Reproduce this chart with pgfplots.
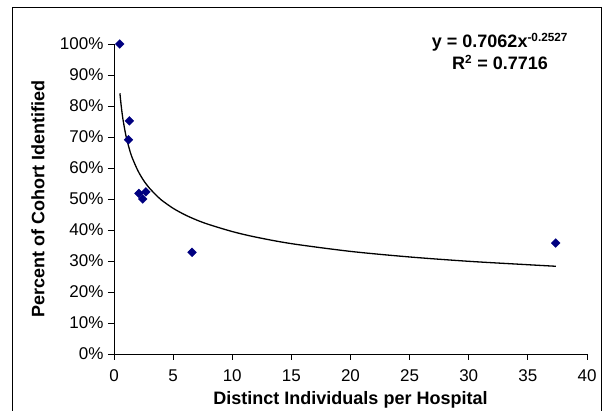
\documentclass[border=0pt]{standalone}
\usepackage{fontspec}
\setmainfont{Liberation Sans}
\usepackage{pgfplots}
\pgfplotsset{compat=1.18}
\definecolor{navy}{RGB}{0,0,128}

\begin{document}
\begin{tikzpicture}
\begin{axis}[
    at={(0pt,0pt)}, anchor=origin,
    scale only axis,
    width=473pt, height=310pt,
    xmin=0, xmax=40, ymin=0, ymax=100,
    axis lines*=left,
    axis line style={black, line width=0.8pt},
    tick align=outside,
    major tick length=6pt,
    tick style={black, line width=0.8pt},
    xtick={0,5,...,40},
    ytick={0,10,...,100},
    yticklabel={\pgfmathprintnumber{\tick}\%},
    /pgf/number format/assume math mode=true,
    tick label style={font=\fontsize{17}{20}\selectfont},
    xticklabel style={yshift=-6pt},
    yticklabel style={xshift=-1pt},
    xlabel={Distinct Individuals per Hospital},
    ylabel={Percent of Cohort Identified},
    label style={font=\bfseries\fontsize{18}{22}\selectfont},
    xlabel style={at={(axis description cs:0.5,0)}, anchor=base, yshift=-51pt},
    ylabel style={at={(axis description cs:0,0.5)}, anchor=center, yshift=76pt},
    clip=false,
]
% observed points
\addplot[only marks, mark=square*, mark size=3.1pt,
    mark options={rotate=45, fill=navy, draw=navy}] coordinates {
    (0.49,100) (1.30,75.2) (1.23,69.1) (2.11,51.8) (2.43,50.0)
    (2.70,52.3) (6.60,32.8) (37.35,35.8)
};
% power trendline
\addplot[black, line width=1.3pt, smooth, no marks] coordinates {
    (0.5,84.1) (0.6,80.4) (0.75,75.9) (1,70.6) (1.25,66.8) (1.5,63.7)
    (2,59.3) (2.5,56.0) (3,53.5) (3.5,51.5) (4,49.7) (5,47.0) (6,44.9)
    (7,43.2) (8,41.8) (10,39.5) (12,37.7) (15,35.6) (20,33.1) (25,31.3)
    (30,29.9) (35,28.8) (37.36,28.3)
};
\end{axis}
\node[anchor=base, font=\bfseries\fontsize{18}{22}\selectfont] at (386pt,306pt)
    {y = 0.7062x\textsuperscript{\fontsize{11.8}{14}\selectfont -0.2527}};
\node[anchor=base, font=\bfseries\fontsize{18}{22}\selectfont] at (386pt,284pt)
    {R\textsuperscript{\fontsize{11.8}{14}\selectfont 2} = 0.7716};
\draw[black, line width=0.8pt] (-101.5pt,-80pt) -- (-101.5pt,346.5pt)
    -- (487pt,346.5pt) -- (487pt,-80pt);
\pgfresetboundingbox
\useasboundingbox (-114pt,-57pt) rectangle (488pt,354pt);
\end{tikzpicture}
\end{document}
